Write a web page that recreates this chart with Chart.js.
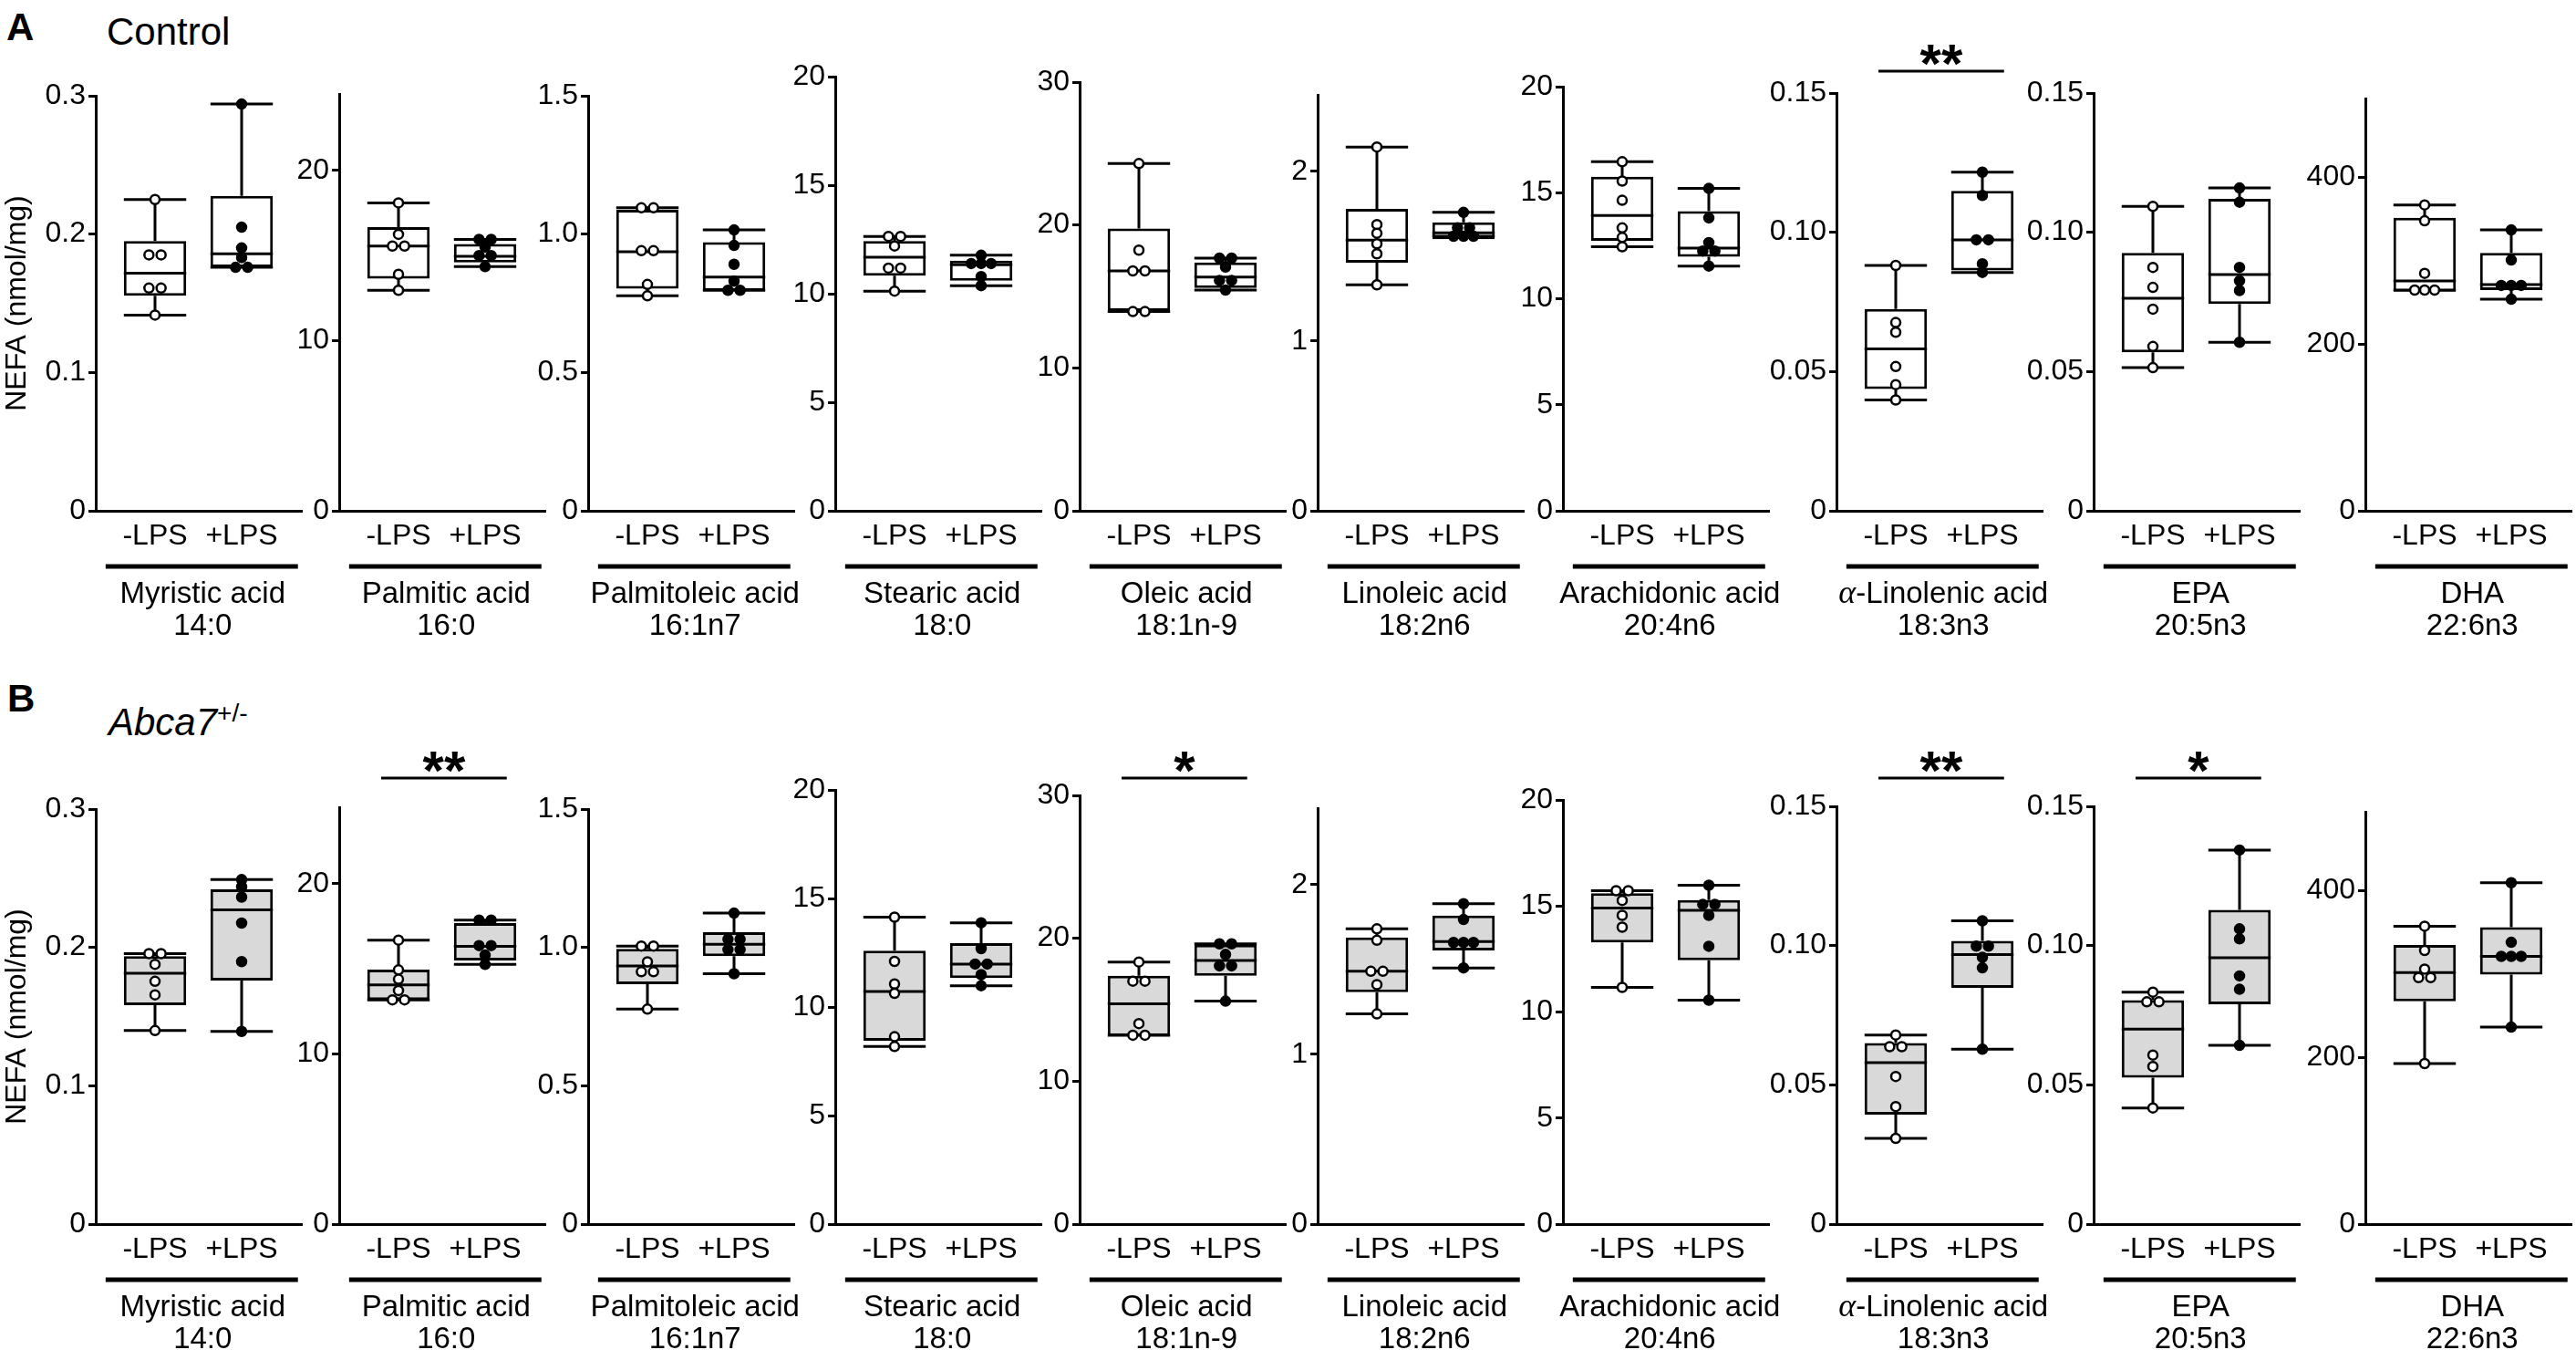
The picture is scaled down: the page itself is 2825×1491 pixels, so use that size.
<!DOCTYPE html>
<html>
<head>
<meta charset="utf-8">
<script src="https://cdn.jsdelivr.net/npm/chart.js@4.4.1/dist/chart.umd.min.js"></script>
<style>
body { margin: 0; background: #fff; }
#page { position: relative; width: 2825px; height: 1491px; overflow: hidden; font-family: "Liberation Sans", Arial, sans-serif; color: #000; }
.panel { position: absolute; }
.tag { position: absolute; line-height: 1; white-space: nowrap; }
</style>
</head>
<body>
<div id="page">
  <div class="tag" style="left:7px; top:9px; font-size:42px; font-weight:bold;">A</div>
  <div class="tag" style="left:117px; top:14px; font-size:42px;">Control</div>
  <div class="tag" style="left:8px; top:745px; font-size:42px; font-weight:bold;">B</div>
  <div class="tag" style="left:119px; top:768px; font-size:42px; font-style:italic;">Abca7<sup style="font-size:28px; font-style:normal;">+/-</sup></div>
</div>
<script>
const acids = ['Myristic acid', 'Palmitic acid', 'Palmitoleic acid', 'Stearic acid', 'Oleic acid',
    'Linoleic acid', 'Arachidonic acid', 'α-Linolenic acid', 'EPA', 'DHA'];
const codes = ['14:0', '16:0', '16:1n7', '18:0', '18:1n-9', '18:2n6', '20:4n6', '18:3n3', '20:5n3', '22:6n3'];
const groups = ['-LPS', '+LPS'];

const yMax = [0.3, 24.5, 1.5, 20, 30, 2.45, 20, 0.15, 0.15, 494];
const yTicks = [[0, 0.1, 0.2, 0.3], [0, 10, 20], [0, 0.5, 1.0, 1.5], [0, 5, 10, 15, 20], [0, 10, 20, 30],
    [0, 1, 2], [0, 5, 10, 15, 20], [0, 0.05, 0.10, 0.15], [0, 0.05, 0.10, 0.15], [0, 200, 400]];
const yTickLabels = [['0', '0.1', '0.2', '0.3'], ['0', '10', '20'], ['0', '0.5', '1.0', '1.5'],
    ['0', '5', '10', '15', '20'], ['0', '10', '20', '30'], ['0', '1', '2'], ['0', '5', '10', '15', '20'],
    ['0', '0.05', '0.10', '0.15'], ['0', '0.05', '0.10', '0.15'], ['0', '200', '400']];

// A: Control, per acid [-LPS, +LPS], n = 6
const ctrlPoints = [
    [[0.225, 0.185, 0.185, 0.161, 0.161, 0.1415], [0.294, 0.205, 0.190, 0.183, 0.176, 0.176]],
    [[18.1, 16.25, 15.56, 15.56, 13.9, 12.96], [15.95, 15.95, 15.5, 15.0, 15.0, 14.35]],
    [[1.095, 1.095, 0.94, 0.94, 0.818, 0.777], [1.015, 0.959, 0.891, 0.83, 0.797, 0.797]],
    [[12.64, 12.64, 12.2, 11.18, 11.18, 10.12], [11.77, 11.39, 11.39, 11.39, 10.79, 10.37]],
    [[24.3, 18.24, 16.79, 16.79, 13.94, 13.94], [17.68, 17.68, 17.06, 16.12, 16.12, 15.44]],
    [[2.143, 1.686, 1.635, 1.573, 1.514, 1.331], [1.758, 1.667, 1.667, 1.617, 1.617, 1.617]],
    [[16.46, 15.55, 14.64, 13.34, 12.89, 12.45], [15.2, 13.81, 12.65, 12.25, 12.25, 11.54]],
    [[0.0881, 0.0676, 0.0641, 0.0518, 0.0453, 0.0398], [0.1216, 0.1132, 0.0973, 0.0973, 0.0887, 0.0856]],
    [[0.1093, 0.0874, 0.0802, 0.0724, 0.059, 0.0514], [0.1159, 0.1108, 0.0874, 0.0826, 0.0791, 0.0605]],
    [[366.5, 347.5, 284.5, 264.5, 264.5, 264.5], [336.5, 300.5, 270, 270, 270, 253.5]]
];
const ctrlQ1 = [[0.1555, 0.176], [13.65, 14.59], [0.803, 0.795], [10.83, 10.6], [14.0, 15.59],
    [1.462, 1.60], [12.73, 11.98], [0.0437, 0.0863], [0.0569, 0.0743], [262.5, 264.5]];
const ctrlMedian = [[0.1718, 0.1858], [15.56, 14.96], [0.936, 0.845], [11.68, 11.33], [16.79, 16.35],
    [1.595, 1.637], [13.93, 12.39], [0.0581, 0.0973], [0.0763, 0.0848], [275.5, 271]];
const ctrlQ3 = [[0.195, 0.2276], [16.67, 15.68], [1.088, 0.971], [12.43, 11.52], [19.76, 17.38],
    [1.778, 1.699], [15.75, 14.13], [0.0725, 0.1149], [0.0926, 0.112], [351, 309]];
const ctrlSig = ['', '', '', '', '', '', '', '**', '', ''];

// B: Abca7+/-
const abcaPoints = [
    [[0.1955, 0.1955, 0.1878, 0.1755, 0.1657, 0.1399], [0.249, 0.2438, 0.2364, 0.2176, 0.1897, 0.1393]],
    [[16.69, 14.94, 14.39, 13.73, 13.18, 13.18], [17.87, 17.87, 16.37, 16.37, 15.81, 15.26]],
    [[1.005, 1.005, 0.948, 0.912, 0.912, 0.777], [1.124, 1.03, 1.03, 0.992, 0.992, 0.905]],
    [[14.14, 12.1, 11.06, 10.63, 8.63, 8.18], [13.88, 12.69, 11.98, 11.98, 11.49, 10.98]],
    [[18.34, 17.0, 17.0, 14.03, 13.22, 13.22], [19.61, 19.61, 18.87, 18.07, 18.07, 15.6]],
    [[1.739, 1.672, 1.489, 1.489, 1.411, 1.238], [1.887, 1.794, 1.659, 1.659, 1.659, 1.509]],
    [[15.72, 15.72, 15.26, 14.56, 14.0, 11.16], [15.98, 15.08, 15.08, 14.56, 13.1, 10.56]],
    [[0.0679, 0.0637, 0.0637, 0.053, 0.0422, 0.0308], [0.1089, 0.0998, 0.0998, 0.0958, 0.092, 0.0628]],
    [[0.0833, 0.0798, 0.0798, 0.0607, 0.0566, 0.0417], [0.1343, 0.106, 0.1024, 0.0891, 0.0843, 0.0642]],
    [[356.9, 327.9, 305.6, 295.4, 295.4, 192.4], [409, 337.6, 320.8, 320.8, 320.8, 236]]
];
const abcaQ1 = [[0.1583, 0.1761], [13.18, 15.49], [0.867, 0.968], [8.45, 11.33], [13.16, 17.38],
    [1.366, 1.612], [13.28, 12.44], [0.0393, 0.0848], [0.0526, 0.0789], [267, 299]];
const abcaMedian = [[0.1814, 0.2272], [14.06, 16.32], [0.933, 1.011], [10.71, 11.98], [15.42, 18.45],
    [1.489, 1.664], [14.9, 14.8], [0.058, 0.0968], [0.07, 0.0956], [301.5, 320.8]];
const abcaQ3 = [[0.1937, 0.2419], [14.96, 17.69], [0.995, 1.055], [12.59, 12.94], [17.38, 19.55],
    [1.689, 1.817], [15.6, 15.28], [0.065, 0.1017], [0.0804, 0.1128], [334.5, 355.8]];
const abcaSig = ['', '**', '', '', '*', '', '', '**', '*', ''];

// layout
const axisX = [105, 372, 645, 916, 1184, 1445, 1714, 2014, 2296, 2594];
const topShift = [0, -2, 0, -21, -15, -1, -10, -3, -3, 3];
const rows = [
    { canvasTop: 0, top: 105, bottom: 560, sigY: 78, fill: '#ffffff',
      points: ctrlPoints, q1: ctrlQ1, med: ctrlMedian, q3: ctrlQ3, sig: ctrlSig },
    { canvasTop: 745, top: 887, bottom: 1342, sigY: 853, fill: '#d9d9d9',
      points: abcaPoints, q1: abcaQ1, med: abcaMedian, q3: abcaQ3, sig: abcaSig }
];
const PLOT_W = 226, X_H = 148, UNIT = 95;
const X_MIN = -65 / UNIT, X_MAX = X_MIN + PLOT_W / UNIT;
const HALF = 0.36;
const FONT = '"Liberation Sans", Arial, sans-serif';

Chart.defaults.font.family = FONT;
Chart.defaults.color = '#000';

// put points with (nearly) equal values side by side
function spread(values, pxPerUnit) {
    const idx = values.map((v, i) => i).sort((a, b) => values[b] - values[a]);
    const off = new Array(values.length).fill(0);
    let run = [idx[0]];
    const flush = () => {
        const n = run.length;
        const step = n > 2 ? 0.115 : 0.14;
        run.forEach((k, j) => { off[k] = (j - (n - 1) / 2) * step; });
    };
    for (let j = 1; j < idx.length; j++) {
        if ((values[idx[j - 1]] - values[idx[j]]) * pxPerUnit < 7.5) {
            run.push(idx[j]);
        } else {
            flush();
            run = [idx[j]];
        }
    }
    flush();
    return off;
}

function whiskers(g, pts, q1, med, q3) {
    const lo = Math.min(...pts), hi = Math.max(...pts);
    return [
        {x: g - HALF, y: hi}, {x: g + HALF, y: hi}, {x: g, y: null},
        {x: g, y: hi}, {x: g, y: q3}, {x: g, y: null},
        {x: g, y: q1}, {x: g, y: lo}, {x: g, y: null},
        {x: g - HALF, y: lo}, {x: g + HALF, y: lo}, {x: g, y: null},
        {x: g - HALF, y: med}, {x: g + HALF, y: med}
    ];
}

// acid name: a leading Greek letter is set in a serif italic, like the original
function drawName(ctx, text, cx, y) {
    const sans = '33px ' + FONT;
    if (text[0] !== 'α') {
        ctx.font = sans;
        ctx.textAlign = 'center';
        ctx.fillText(text, cx, y);
        return;
    }
    const greek = 'italic 36px "Liberation Serif", "DejaVu Serif", serif';
    const rest = text.slice(1);
    ctx.font = greek;
    const wg = ctx.measureText('α').width;
    ctx.font = sans;
    const wr = ctx.measureText(rest).width;
    const x0 = cx - (wg + wr) / 2;
    ctx.textAlign = 'left';
    ctx.font = greek;
    ctx.fillText('α', x0, y);
    ctx.font = sans;
    ctx.fillText(rest, x0 + wg, y);
    ctx.textAlign = 'center';
}

const decoPlugin = {
    id: 'deco',
    afterDraw(chart, args, opts) {
        const {ctx, chartArea} = chart;
        const x = chart.scales.x;
        const b = chartArea.bottom;
        ctx.save();
        ctx.strokeStyle = '#000';
        ctx.fillStyle = '#000';
        ctx.lineWidth = 5;
        ctx.beginPath();
        ctx.moveTo(x.getPixelForValue(-0.57), b + 61);
        ctx.lineTo(x.getPixelForValue(1.65), b + 61);
        ctx.stroke();
        ctx.textBaseline = 'middle';
        const cx = x.getPixelForValue(0.55);
        drawName(ctx, opts.name, cx, b + 92);
        ctx.font = '33px ' + FONT;
        ctx.textAlign = 'center';
        ctx.fillText(opts.code, cx, b + 127);
        if (opts.sig) {
            ctx.lineWidth = 3;
            ctx.beginPath();
            ctx.moveTo(x.getPixelForValue(-0.2), opts.sigY);
            ctx.lineTo(x.getPixelForValue(1.25), opts.sigY);
            ctx.stroke();
            ctx.font = 'bold 60px ' + FONT;
            ctx.textBaseline = 'alphabetic';
            ctx.fillText(opts.sig, x.getPixelForValue(0.525), opts.sigY + 12);
        }
        ctx.restore();
    }
};

const page = document.getElementById('page');

rows.forEach(row => {
    acids.forEach((name, p) => {
        const yw = p === 0 ? 105 : 90;
        const plotTop = row.top + topShift[p];
        const pxPerUnit = (row.bottom - plotTop) / yMax[p];
        const box = document.createElement('div');
        box.className = 'panel';
        box.style.left = (axisX[p] - yw) + 'px';
        box.style.top = row.canvasTop + 'px';
        box.style.width = (yw + PLOT_W + 20) + 'px';
        box.style.height = (row.bottom + X_H - row.canvasTop) + 'px';
        const canvas = document.createElement('canvas');
        box.appendChild(canvas);
        page.appendChild(box);

        const datasets = [{
            type: 'bar',
            data: groups.map((gname, g) => ({x: g, y: [row.q1[p][g], row.q3[p][g]]})),
            backgroundColor: row.fill,
            borderColor: '#000',
            borderWidth: 3,
            borderSkipped: false,
            barPercentage: 2 * HALF,
            categoryPercentage: 1,
            order: 2
        }, {
            type: 'line',
            data: [].concat(whiskers(0, row.points[p][0], row.q1[p][0], row.med[p][0], row.q3[p][0]),
                [{x: 0, y: null}],
                whiskers(1, row.points[p][1], row.q1[p][1], row.med[p][1], row.q3[p][1])),
            borderColor: '#000',
            borderWidth: 3,
            pointRadius: 0,
            spanGaps: false,
            tension: 0,
            order: 1
        }];
        groups.forEach((gname, g) => {
            const vals = row.points[p][g];
            const off = spread(vals, pxPerUnit);
            datasets.push({
                type: 'scatter',
                data: vals.map((v, k) => ({x: g + off[k], y: v})),
                pointRadius: 5,
                pointBorderWidth: 2.5,
                pointBorderColor: '#000',
                pointBackgroundColor: g === 0 ? '#ffffff' : '#000000',
                order: 0
            });
        });

        new Chart(canvas, {
            type: 'bar',
            data: { datasets },
            options: {
                responsive: true,
                maintainAspectRatio: false,
                animation: false,
                events: [],
                layout: { padding: { top: plotTop - row.canvasTop, right: 20, bottom: 0, left: 0 } },
                plugins: {
                    legend: { display: false },
                    tooltip: { enabled: false },
                    deco: { name, code: codes[p], sig: row.sig[p], sigY: row.sigY - row.canvasTop }
                },
                scales: {
                    x: {
                        type: 'linear', min: X_MIN, max: X_MAX, offset: false,
                        afterBuildTicks: s => { s.ticks = [{value: 0}, {value: 1}]; },
                        afterFit: s => { s.height = X_H; },
                        ticks: { autoSkip: false, maxRotation: 0, padding: 9, color: '#000',
                                 font: { size: 32 }, callback: (v, i) => groups[i] },
                        grid: { display: true, drawOnChartArea: false, drawTicks: false },
                        border: { display: true, color: '#000', width: 3 }
                    },
                    y: {
                        type: 'linear', min: 0, max: yMax[p],
                        afterBuildTicks: s => { s.ticks = yTicks[p].map(v => ({value: v})); },
                        afterFit: s => { s.width = yw; },
                        ticks: { autoSkip: false, padding: 3, color: '#000', font: { size: 32 },
                                 callback: (v, i) => yTickLabels[p][i] },
                        grid: { drawOnChartArea: false, drawTicks: true, tickLength: 8,
                                tickWidth: 3, tickColor: '#000' },
                        border: { display: true, color: '#000', width: 3 },
                        title: { display: p === 0, text: 'NEFA (nmol/mg)', color: '#000',
                                 font: { size: 32 }, padding: { top: 0, bottom: 0 } }
                    }
                }
            },
            plugins: [decoPlugin]
        });
    });
});
</script>
</body>
</html>
